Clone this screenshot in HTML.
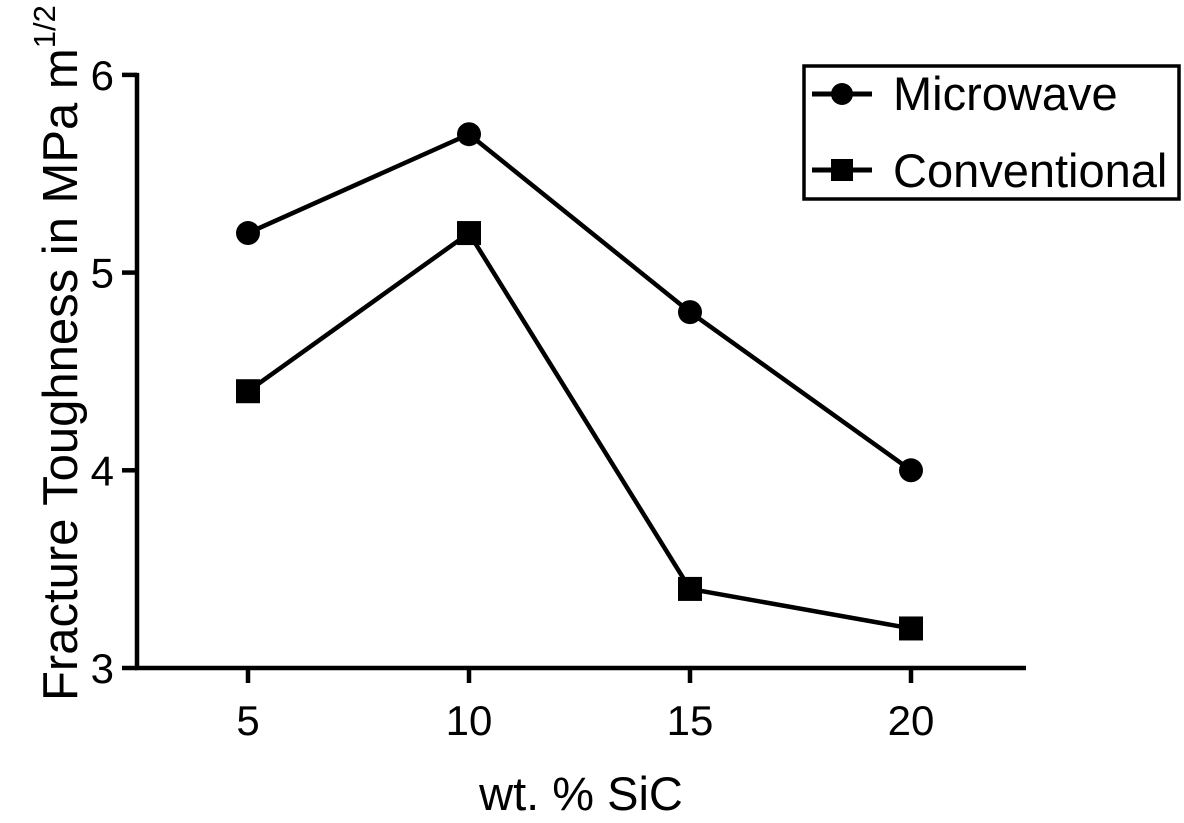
<!DOCTYPE html>
<html><head><meta charset="utf-8"><style>
html,body{margin:0;padding:0;background:#fff;}
svg text{font-family:"Liberation Sans",Arial,sans-serif;fill:#000;}
</style></head><body>
<svg id="chart" width="1184" height="818" viewBox="0 0 1184 818" xmlns="http://www.w3.org/2000/svg">
<g id="axes"></g>
<g id="series"></g>
<text x="581" y="810" font-size="47" text-anchor="middle">wt. % SiC</text>
<text transform="translate(77,701) rotate(-90)" font-size="49" text-anchor="start">Fracture Toughness in MPa m<tspan dy="-22" font-size="31">1/2</tspan></text>
<g>
<rect x="804" y="66" width="375" height="133" fill="#fff" stroke="#000" stroke-width="3.5"/>
<g>
<line x1="812" y1="94" x2="872" y2="94" stroke="#000" stroke-width="5"/>
<circle cx="842" cy="94" r="11" fill="#000"/>
<text x="893" y="110" font-size="47">Microwave</text>
</g>
<g>
<line x1="812" y1="170" x2="872" y2="170" stroke="#000" stroke-width="5"/>
<rect x="831" y="159" width="22" height="22" fill="#000"/>
<text x="893" y="187" font-size="47">Conventional</text>
</g>
</g>
</svg>
<script>
const categories=[5,10,15,20];
const microwave=[5.2,5.7,4.8,4.0];
const conventional=[4.4,5.2,3.4,3.2];
const yTicks=[3,4,5,6];
const xTickLabels=["5","10","15","20"];
const NS="http://www.w3.org/2000/svg";
function xS(v){return 248+(v-5)*44.2;}
function yS(v){return 668-(v-3)*197.7;}
function mk(tag,attrs,parent){const e=document.createElementNS(NS,tag);for(const k in attrs)e.setAttribute(k,attrs[k]);parent.appendChild(e);return e;}
const axes=document.getElementById('axes');
let l=mk('line',{x1:137,y1:yS(6)-2,x2:137,y2:670,stroke:'#000','stroke-width':4.5},axes);


l=mk('line',{x1:135,y1:668,x2:1026,y2:668,stroke:'#000','stroke-width':4.5},axes);


yTicks.forEach(t=>{
 const y=yS(t);
 const tk=mk('line',{x1:122,y1:y,x2:137,y2:y,stroke:'#000','stroke-width':4.5},axes);
 
 
 const tx=mk('text',{x:114,y:y+15,'font-size':42,'text-anchor':'end'},axes);
 tx.textContent=t;
 
 
});
categories.forEach((c,i)=>{
 const x=xS(c);
 const tk=mk('line',{x1:x,y1:668,x2:x,y2:683,stroke:'#000','stroke-width':4.5},axes);
 
 
 const tx=mk('text',{x:x,y:735,'font-size':42,'text-anchor':'middle'},axes);
 tx.textContent=xTickLabels[i];
 
 
});
const sg=document.getElementById('series');
function draw(vals,name,shape){
 const pts=categories.map((c,i)=>xS(c)+','+yS(vals[i])).join(' ');
 const pl=mk('polyline',{points:pts,fill:'none',stroke:'#000','stroke-width':4.5},sg);
 
 
 categories.forEach((c,i)=>{
  const x=xS(c),y=yS(vals[i]);
  let m;
  if(shape==='circle')m=mk('circle',{cx:x,cy:y,r:12,fill:'#000'},sg);
  else m=mk('rect',{x:x-12,y:y-12,width:24,height:24,fill:'#000'},sg);
  
  
 });
}
draw(microwave,'microwave','circle');
draw(conventional,'conventional','square');
</script>
</body></html>
